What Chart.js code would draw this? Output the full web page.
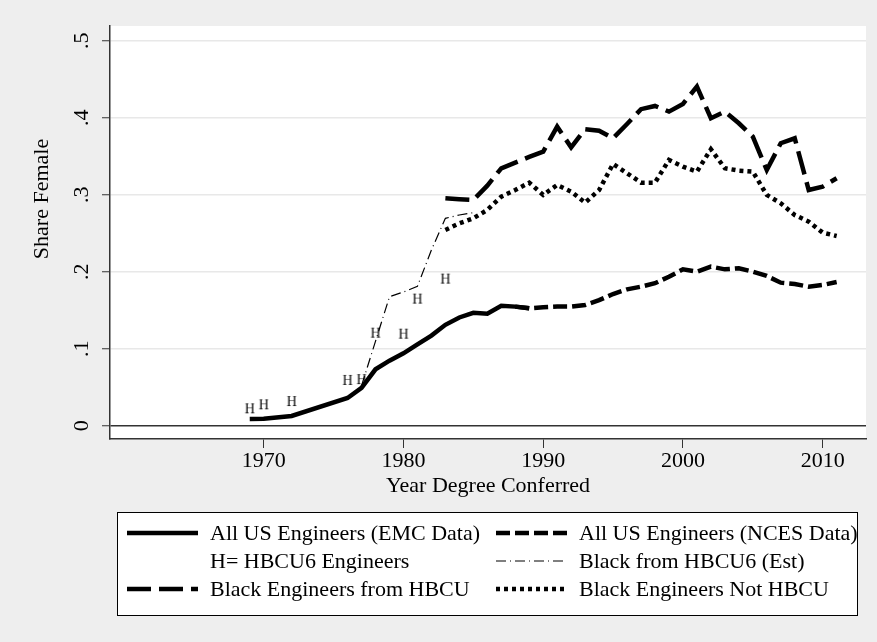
<!DOCTYPE html>
<html lang="en">
  <head>
    <meta charset="UTF-8" />
    <title>Share Female among Engineers</title>
    <script src="https://cdn.jsdelivr.net/npm/chart.js@4.4.1/dist/chart.umd.min.js"></script>
    <style>
      html, body { margin: 0; padding: 0; background: #eeeeee; }
      #wrap { width: 877px; height: 642px; }
    </style>
  </head>
  <body>
    <div id="wrap"><canvas id="myChart" width="877" height="642"></canvas></div>

    <script>
      // values
      const emcYears = [1969, 1970, 1972, 1976, 1977, 1978, 1979, 1980, 1981, 1982, 1983, 1984, 1985, 1986, 1987, 1988, 1989];
      const emcShare = [0.0087, 0.009, 0.0126, 0.036, 0.049, 0.0732, 0.0844, 0.094, 0.1057, 0.117, 0.131, 0.1405, 0.1465, 0.1455, 0.1558, 0.1546, 0.1525];

      const ncesYears = [1988, 1989, 1990, 1991, 1992, 1993, 1994, 1995, 1996, 1997, 1998, 1999, 2000, 2001, 2002, 2003, 2004, 2005, 2006, 2007, 2008, 2009, 2010, 2011];
      const ncesShare = [0.1546, 0.1525, 0.1537, 0.1546, 0.1546, 0.1567, 0.163, 0.171, 0.177, 0.1805, 0.185, 0.1935, 0.203, 0.2, 0.2065, 0.203, 0.2044, 0.2, 0.1944, 0.1857, 0.184, 0.1805, 0.1827, 0.1866];

      const hYears = [1969, 1970, 1972, 1976, 1977, 1978, 1980, 1981, 1983];
      const hShare = [0.0226, 0.0278, 0.032, 0.0594, 0.0605, 0.1208, 0.1195, 0.165, 0.191];

      const estYears = [1977, 1979, 1980, 1981, 1982, 1983, 1984, 1985];
      const estShare = [0.052, 0.1674, 0.1736, 0.181, 0.228, 0.2693, 0.2736, 0.2766];

      const blackYears = [1983, 1984, 1985, 1986, 1987, 1988, 1989, 1990, 1991, 1992, 1993, 1994, 1995, 1996, 1997, 1998, 1999, 2000, 2001, 2002, 2003, 2004, 2005, 2006, 2007, 2008, 2009, 2010, 2011];
      const hbcuShare = [0.2953, 0.294, 0.2931, 0.3117, 0.3342, 0.3416, 0.349, 0.3558, 0.3883, 0.3615, 0.385, 0.383, 0.3732, 0.3918, 0.411, 0.4152, 0.4078, 0.4178, 0.4403, 0.3992, 0.4078, 0.3927, 0.3753, 0.332, 0.3668, 0.3732, 0.306, 0.3104, 0.3213];
      const notHbcuShare = [0.2542, 0.2628, 0.2693, 0.2801, 0.2974, 0.306, 0.3156, 0.2996, 0.3126, 0.3039, 0.2896, 0.306, 0.3399, 0.3278, 0.3156, 0.3156, 0.345, 0.3364, 0.3299, 0.359, 0.3343, 0.3312, 0.3299, 0.2996, 0.2888, 0.2736, 0.265, 0.2507, 0.2463];

      const xTicks = [1970, 1980, 1990, 2000, 2010];
      const yTicks = [0, 0.1, 0.2, 0.3, 0.4, 0.5];

      const FONT = '"Liberation Serif", "Times New Roman", serif';

      function pairs(xs, ys) {
        return xs.map((x, i) => ({ x: x, y: ys[i] }));
      }

      // the "H" marker
      const hMark = document.createElement('canvas');
      hMark.width = 16;
      hMark.height = 16;
      const hc = hMark.getContext('2d');
      hc.fillStyle = '#000';
      hc.font = '14px ' + FONT;
      hc.textAlign = 'center';
      hc.textBaseline = 'middle';
      hc.fillText('H', 8, 9);

      const legendItems = [
        { ds: 0, text: 'All US Engineers (EMC Data)', col: 0, row: 0 },
        { ds: 1, text: 'All US Engineers (NCES Data)', col: 1, row: 0 },
        { ds: -1, text: 'H= HBCU6 Engineers', col: 0, row: 1 },
        { ds: 3, text: 'Black from HBCU6 (Est)', col: 1, row: 1 },
        { ds: 4, text: 'Black Engineers from HBCU', col: 0, row: 2 },
        { ds: 5, text: 'Black Engineers Not HBCU', col: 1, row: 2 }
      ];

      const extras = {
        id: 'extras',
        afterDraw(chart) {
          const ctx = chart.ctx;
          ctx.save();
          // y axis title
          ctx.fillStyle = '#000';
          ctx.font = '22px ' + FONT;
          ctx.textAlign = 'center';
          ctx.textBaseline = 'middle';
          ctx.translate(42, 199);
          ctx.rotate(-Math.PI / 2);
          ctx.fillText('Share Female', 0, 0);
          ctx.restore();

          // legend box
          ctx.save();
          ctx.fillStyle = '#ffffff';
          ctx.fillRect(117.5, 512.5, 740, 103);
          ctx.strokeStyle = '#000';
          ctx.lineWidth = 1;
          ctx.strokeRect(117.5, 512.5, 740, 103);
          const colX = [127, 496];
          const rowY = [533, 561, 589];
          legendItems.forEach(it => {
            const x0 = colX[it.col];
            const y = rowY[it.row];
            if (it.ds >= 0) {
              const ds = chart.data.datasets[it.ds];
              ctx.beginPath();
              ctx.lineCap = 'butt';
              ctx.strokeStyle = ds.borderColor;
              ctx.lineWidth = ds.borderWidth;
              ctx.setLineDash(ds.borderDash || []);
              ctx.moveTo(x0, y);
              ctx.lineTo(x0 + 71, y);
              ctx.stroke();
              ctx.setLineDash([]);
            }
            ctx.fillStyle = '#000';
            ctx.font = '22px ' + FONT;
            ctx.textAlign = 'left';
            ctx.textBaseline = 'middle';
            ctx.fillText(it.text, x0 + 83, y + 1);
          });
          ctx.restore();
        }
      };

      const ctx = document.getElementById('myChart').getContext('2d');
      const myChart = new Chart(ctx, {
        type: 'line',
        data: {
          datasets: [
            {
              label: 'All US Engineers (EMC Data)',
              data: pairs(emcYears, emcShare),
              borderColor: '#000',
              borderWidth: 4.5,
              pointRadius: 0,
              spanGaps: true
            },
            {
              label: 'All US Engineers (NCES Data)',
              data: pairs(ncesYears, ncesShare),
              borderColor: '#000',
              borderWidth: 4.5,
              borderDash: [14, 5],
              pointRadius: 0
            },
            {
              label: 'H= HBCU6 Engineers',
              data: pairs(hYears, hShare),
              showLine: false,
              pointStyle: hMark,
              pointRadius: 8
            },
            {
              label: 'Black from HBCU6 (Est)',
              data: pairs(estYears, estShare),
              borderColor: '#000',
              borderWidth: 1.2,
              borderDash: [10, 4, 1, 4],
              pointRadius: 0,
              spanGaps: true
            },
            {
              label: 'Black Engineers from HBCU',
              data: pairs(blackYears, hbcuShare),
              borderColor: '#000',
              borderWidth: 4.5,
              borderDash: [24, 8],
              pointRadius: 0
            },
            {
              label: 'Black Engineers Not HBCU',
              data: pairs(blackYears, notHbcuShare),
              borderColor: '#000',
              borderWidth: 4.5,
              borderDash: [4, 4],
              pointRadius: 0
            }
          ]
        },
        options: {
          responsive: false,
          animation: false,
          layout: { padding: { top: 26, right: 11, left: 0, bottom: 143 } },
          plugins: {
            legend: { display: false },
            tooltip: { enabled: false }
          },
          elements: { line: { tension: 0, borderCapStyle: 'butt' } },
          scales: {
            x: {
              type: 'linear',
              min: 1959,
              max: 2013.1,
              afterBuildTicks: s => { s.ticks = xTicks.map(v => ({ value: v })); },
              afterFit: s => { s.height = 60; },
              grid: { drawOnChartArea: false, tickLength: 9, tickColor: '#333', tickWidth: 1 },
              border: { display: true, color: '#333', width: 1.5 },
              ticks: {
                padding: 0,
                color: '#000',
                font: { family: FONT, size: 22 },
                maxRotation: 0,
                callback: v => String(v)
              },
              title: {
                display: true,
                text: 'Year Degree Conferred',
                color: '#000',
                font: { family: FONT, size: 22 },
                padding: { top: 0, bottom: 0 }
              }
            },
            y: {
              min: -0.0173,
              max: 0.519,
              afterBuildTicks: s => { s.ticks = yTicks.map(v => ({ value: v })); },
              afterFit: s => { s.width = 110; },
              grid: {
                color: c => (c.tick && c.tick.value === 0 ? '#333' : '#e8e8e8'),
                lineWidth: 1.5,
                tickLength: 8,
                tickColor: '#333',
                tickWidth: 1
              },
              border: { display: true, color: '#333', width: 1.5 },
              ticks: {
                minRotation: 90,
                maxRotation: 90,
                crossAlign: 'center',
                padding: 12,
                color: '#000',
                font: { family: FONT, size: 22 },
                callback: v => (v === 0 ? '0' : '.' + Math.round(v * 10))
              }
            }
          }
        },
        plugins: [
          {
            id: 'plotBg',
            beforeDraw(chart) {
              const a = chart.chartArea;
              chart.ctx.save();
              chart.ctx.fillStyle = '#ffffff';
              chart.ctx.fillRect(a.left, a.top, a.right - a.left, a.bottom - a.top);
              chart.ctx.restore();
            }
          },
          extras
        ]
      });
    </script>
  </body>
</html>
